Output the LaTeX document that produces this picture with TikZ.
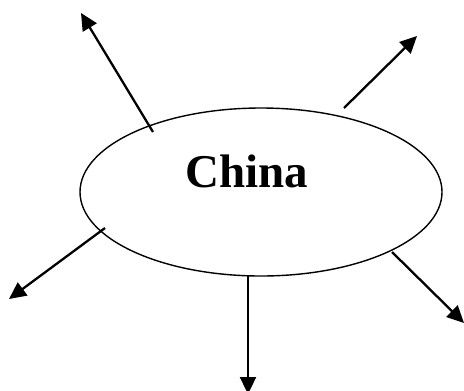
\documentclass[tikz,border=0pt]{standalone}
\usepackage{fontspec}
\setmainfont{Liberation Serif}
\usetikzlibrary{arrows.meta,shapes.geometric}

\begin{document}
\begin{tikzpicture}[x=1bp,y=-1bp, line width=2.3bp, >={Triangle[length=17bp,width=16bp]}]
\useasboundingbox (0,0) rectangle (464,390);

\node[draw, line width=1.4bp, ellipse, minimum width=362bp, minimum height=168bp, inner sep=0pt] (rim) at (261,192) {};
\node[anchor=base, inner sep=0pt, font=\fontsize{47bp}{56bp}\selectfont\bfseries] (name) at (247,187) {China};

% start and end points of the arrows
\coordinate (s1) at (153,132); \coordinate (e1) at (81,13);
\coordinate (s2) at (344,108); \coordinate (e2) at (417,36);
\coordinate (s3) at (105,228); \coordinate (e3) at (9,299);
\coordinate (s4) at (248,276); \coordinate (e4) at (248,394);
\coordinate (s5) at (392,252); \coordinate (e5) at (464,323);

\foreach \i in {1,...,5}
  \draw[->] (s\i)--(e\i);
\end{tikzpicture}
\end{document}
